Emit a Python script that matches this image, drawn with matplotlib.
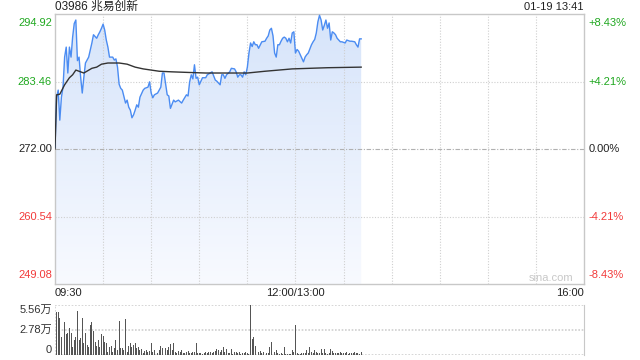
#!/usr/bin/env python3
"""Intraday minute chart for 03986 (price + average line + volume)."""

import numpy as np
import matplotlib
matplotlib.use('Agg')
import matplotlib.pyplot as plt
from matplotlib.patches import Polygon
from matplotlib.colors import LinearSegmentedColormap

plt.rcParams['font.family'] = ['Liberation Sans', 'Noto Sans CJK SC', 'DejaVu Sans']

TITLE = '03986 兆易创新'
STAMP = '01-19 13:41'
PREV_CLOSE = 272.00
PRICE_TICKS = [294.92, 283.46, 272.00, 260.54, 249.08]
PCT_LABELS = ['+8.43%', '+4.21%', '0.00%', '-4.21%', '-8.43%']
TIME_LABELS = ['09:30', '12:00/13:00', '16:00']
TIME_POS = [0, 150, 330]
VOL_TICKS = [5.56, 2.78, 0]
VOL_LABELS = ['5.56万', '2.78万', '0']

# minutes since 09:30 (lunch break removed) and last price
price_min = [0, 1, 2, 3, 4, 5, 6, 7, 8, 9, 10, 11, 12, 13, 14, 15, 16, 17, 18, 19,
             21, 22, 23, 24, 26, 27, 28, 29, 30, 31, 32, 33, 34, 36, 37, 38, 39, 40,
             41, 42, 44, 45, 46, 47, 48, 49, 50, 51, 52, 53, 55, 56, 58, 59, 60, 61,
             62, 64, 66, 67, 68, 70, 71, 72, 74, 75, 77, 79, 80, 82, 83, 84, 85, 86,
             87, 88, 89, 90, 92, 94, 95, 98, 100, 101, 103, 104, 105, 106, 107, 109,
             110, 112, 113, 114, 115, 116, 117, 118, 119, 120, 121, 122, 123, 124,
             125, 126, 127, 129, 131, 132, 133, 134, 135, 136, 137, 138, 139, 140,
             141, 142, 143, 144, 145, 146, 147, 148, 149, 150, 151, 152, 153, 155,
             156, 157, 158, 160, 161, 162, 163, 164, 165, 166, 167, 168, 169, 170,
             171, 172, 173, 174, 175, 176, 178, 179, 181, 182, 184, 185, 187, 188,
             189, 190, 191]
price = [272.3, 280.8, 282.0, 276.9, 280.8, 282.5, 287.6, 289.3, 284.9, 289.3, 287.6,
         291.0, 293.3, 293.9, 287.0, 287.6, 284.2, 281.5, 284.2, 286.6,
         287.6, 288.8, 290.0, 291.4, 290.8, 291.4, 291.9, 292.5, 293.2, 292.2, 290.5,
         289.3, 287.6, 287.6, 287.1, 287.3, 285.9, 283.0,
         282.3, 282.0, 279.8, 280.3, 279.1, 278.6, 277.3, 277.8, 278.6, 279.5, 279.1,
         280.8, 282.0, 282.3, 282.5, 283.4, 281.5, 280.7,
         281.2, 281.5, 282.5, 284.9, 284.9, 281.2, 281.0, 278.9, 280.3, 280.0, 280.3,
         279.8, 280.3, 281.2, 281.0, 283.4, 284.6, 283.9,
         286.3, 284.0, 284.2, 282.9, 284.1, 284.1, 284.6, 285.1, 283.7, 283.5, 282.9,
         284.6, 284.6, 284.0, 284.6, 285.1,
         285.7, 285.6, 285.1, 284.2, 284.6, 284.6, 284.2, 285.1, 284.6, 285.9, 288.3,
         290.0, 289.4, 290.2,
         289.7, 289.7, 289.1, 290.2, 290.3, 290.8, 291.2, 292.2, 292.5, 291.2, 288.3,
         287.6, 289.7, 289.7,
         290.3, 290.8, 291.0, 290.8, 290.2, 290.8, 290.0, 291.7, 291.9, 288.3, 288.9,
         288.6, 288.0, 286.8,
         287.6, 288.0, 288.3, 289.7, 290.2, 290.6, 291.7, 293.6, 294.7, 293.9, 292.2,
         293.0, 293.9, 292.5,
         293.4, 290.5, 291.9, 291.7, 291.4, 290.8, 290.2, 290.2, 290.0, 290.5, 290.3,
         290.3, 290.2, 289.7,
         289.3, 290.7, 290.7]

# average price line
avg_min = [0, 1, 3, 6, 9, 11, 13, 16, 18, 23, 26, 29, 33, 40, 45, 50, 55, 65, 73,
           83, 94, 104, 114, 120, 131, 148, 170, 191]
avg_price = [272.0, 281.2, 281.3, 282.9, 284.1, 284.6, 285.4, 285.1, 284.9, 285.7,
             285.9, 286.4, 286.6, 286.6, 286.4, 285.9, 285.6, 285.2, 285.1,
             285.0, 284.9, 284.9, 284.9, 284.9, 285.2, 285.6, 285.8, 285.9]

# volume per minute, in 万
volume = [1.56, 4.82, 4.82, 4.08, 2.04, 1.67, 3.70, 2.34, 2.41, 2.97,
          2.48, 0.93, 1.67, 2.04, 4.89, 1.67, 1.85, 4.15, 1.37, 2.41,
          1.11, 0.93, 3.34, 3.70, 2.71, 1.48, 1.00, 1.67, 0.90, 2.30,
          2.15, 1.48, 1.37, 0.37, 0.93, 1.00, 0.37, 0.74, 1.67, 0.56,
          3.78, 0.74, 0.82, 0.56, 4.00, 0.37, 1.00, 1.30, 0.93, 1.11,
          1.30, 0.74, 0.85, 0.56, 0.63, 0.19, 0.48, 0.56, 0.37, 0.44,
          1.37, 0.37, 0.56, 0.37, 0.26, 0.56, 1.00, 0.74, 1.85, 0.74,
          0.56, 0.85, 1.22, 0.56, 1.30, 0.37, 0.26, 0.48, 0.37, 0.56,
          0.26, 0.19, 0.37, 0.44, 0.26, 0.19, 0.37, 0.30, 1.30, 0.26,
          0.19, 0.26, 0.15, 0.19, 0.30, 0.22, 0.37, 0.30, 0.19, 0.30,
          0.48, 0.63, 0.56, 0.30, 0.56, 0.85, 0.37, 0.63, 0.26, 0.19,
          0.63, 0.15, 0.33, 0.30, 0.22, 0.37, 0.15, 0.26, 0.19, 0.33,
          0.22, 0.15, 5.56, 1.74, 1.96, 1.00, 0.26, 0.37, 0.48, 0.19,
          0.37, 2.67, 0.19, 0.26, 0.85, 1.40, 1.04, 0.37, 0.56, 0.19,
          0.11, 0.26, 0.11, 0.85, 0.11, 0.11, 0.11, 0.11, 0.56, 0.37,
          3.34, 0.26, 0.11, 0.11, 0.26, 0.26, 0.19, 0.56, 0.26, 0.93,
          0.37, 0.26, 0.56, 0.37, 0.19, 0.26, 0.63, 0.26, 0.63, 0.19,
          0.11, 0.19, 0.63, 0.48, 0.19, 0.19, 0.19, 0.19, 0.30, 0.19,
          0.26, 0.19, 0.30, 0.11, 0.19, 0.19, 0.26, 0.37, 0.19, 0.26, 0.11, 0.30]

GREEN = '#1fa81f'
RED = '#f23a3a'
GRID = '#cfcfcf'
FRAME = '#c8c8c8'
TOTAL_MIN = 330


def label_color(value, ref):
    if value > ref:
        return GREEN
    if value < ref:
        return RED
    return '#222222'


fig = plt.figure(figsize=(6.4, 3.6), dpi=100)
ax = fig.add_axes([55 / 640, 76 / 360, 529 / 640, 270 / 360])
axv = fig.add_axes([55 / 640, 5 / 360, 529 / 640, 50 / 360])

ymin, ymax = PRICE_TICKS[-1], PRICE_TICKS[0]

# gradient fill under the price line
poly_xy = np.column_stack([[price_min[0]] + price_min + [price_min[-1]],
                           [ymin] + price + [ymin]])
poly = Polygon(poly_xy, closed=True, facecolor='none', edgecolor='none')
ax.add_patch(poly)
cmap = LinearSegmentedColormap.from_list('fill', ['#f8faff', '#d6e4fa'])
grad = np.linspace(0, 1, 256).reshape(-1, 1)
im = ax.imshow(grad, extent=[0, TOTAL_MIN, ymin, ymax], origin='lower',
               aspect='auto', cmap=cmap, zorder=1)
im.set_clip_path(poly)

# grid, drawn on top of the fill
for m in range(30, TOTAL_MIN, 30):
    ax.axvline(m, color=GRID, lw=0.8, ls=(0, (1, 1.5)), zorder=2)
for p in PRICE_TICKS[1:-1]:
    if p == PREV_CLOSE:
        ax.axhline(p, color='#b0b0b0', lw=0.8, ls=(0, (4, 1.5, 1, 1.5)), zorder=2)
    else:
        ax.axhline(p, color=GRID, lw=0.8, ls=(0, (1, 1.5)), zorder=2)

ax.plot(price_min, price, color='#4b8cf2', lw=1.0, zorder=3)
ax.plot(avg_min, avg_price, color='#333333', lw=1.0, zorder=4)

ax.set_xlim(0, TOTAL_MIN)
ax.set_ylim(ymin, ymax)
ax.set_xticks([])
ax.set_yticks([])
for s in ax.spines.values():
    s.set_color(FRAME)
    s.set_linewidth(1.0)

# price / percent labels
ytr = ax.get_yaxis_transform()
for i, (p, pct) in enumerate(zip(PRICE_TICKS, PCT_LABELS)):
    va = 'top' if i == 0 else ('bottom' if i == len(PRICE_TICKS) - 1 else 'center')
    off = -0.6 if i == 0 else (0.6 if i == len(PRICE_TICKS) - 1 else 0)
    c = label_color(p, PREV_CLOSE)
    ax.text(-0.006, p + off, f'{p:.2f}', transform=ytr, ha='right', va=va,
            fontsize=8, color=c)
    ax.text(1.009, p + off, pct, transform=ytr, ha='left', va=va,
            fontsize=8, color=c)

# time labels
xtr = ax.get_xaxis_transform()
for lab, m in zip(TIME_LABELS, TIME_POS):
    ha = 'left' if m == 0 else ('right' if m == TOTAL_MIN else 'center')
    ax.text(m, -0.035, lab, transform=xtr, ha=ha, va='center', fontsize=8,
            color='#222222')

fig.text(55 / 640, 1 - 7 / 360, TITLE, ha='left', va='center', fontsize=8.5,
         color='#222222')
fig.text(583 / 640, 1 - 7 / 360, STAMP, ha='right', va='center', fontsize=8,
         color='#222222')
ax.text(0.938, 0.022, 'sina.com', transform=ax.transAxes, ha='center', va='center',
        fontsize=8, color='#c8c8c8')

# volume panel
vol_x = np.arange(len(volume))
axv.bar(vol_x, volume, width=0.6, color='#555555', align='center', zorder=2)
axv.set_xlim(0, TOTAL_MIN)
axv.set_ylim(0, VOL_TICKS[0])
axv.set_xticks([])
axv.set_yticks([])
for name in ['top', 'bottom', 'left']:
    axv.spines[name].set_visible(False)
axv.spines['right'].set_color(FRAME)
for v in VOL_TICKS:
    axv.axhline(v, color=GRID, lw=1.2, ls=(0, (1, 1)), zorder=1)
axv.axvline(0, color=GRID, lw=1.2, ls=(0, (1, 1)), zorder=1)

vtr = axv.get_yaxis_transform()
for i, (v, lab) in enumerate(zip(VOL_TICKS, VOL_LABELS)):
    va = 'top' if i == 0 else ('bottom' if i == len(VOL_TICKS) - 1 else 'center')
    axv.text(-0.006, v, lab, transform=vtr, ha='right', va=va, fontsize=8,
             color='#333333')

fig.savefig('out.png', dpi=100)
